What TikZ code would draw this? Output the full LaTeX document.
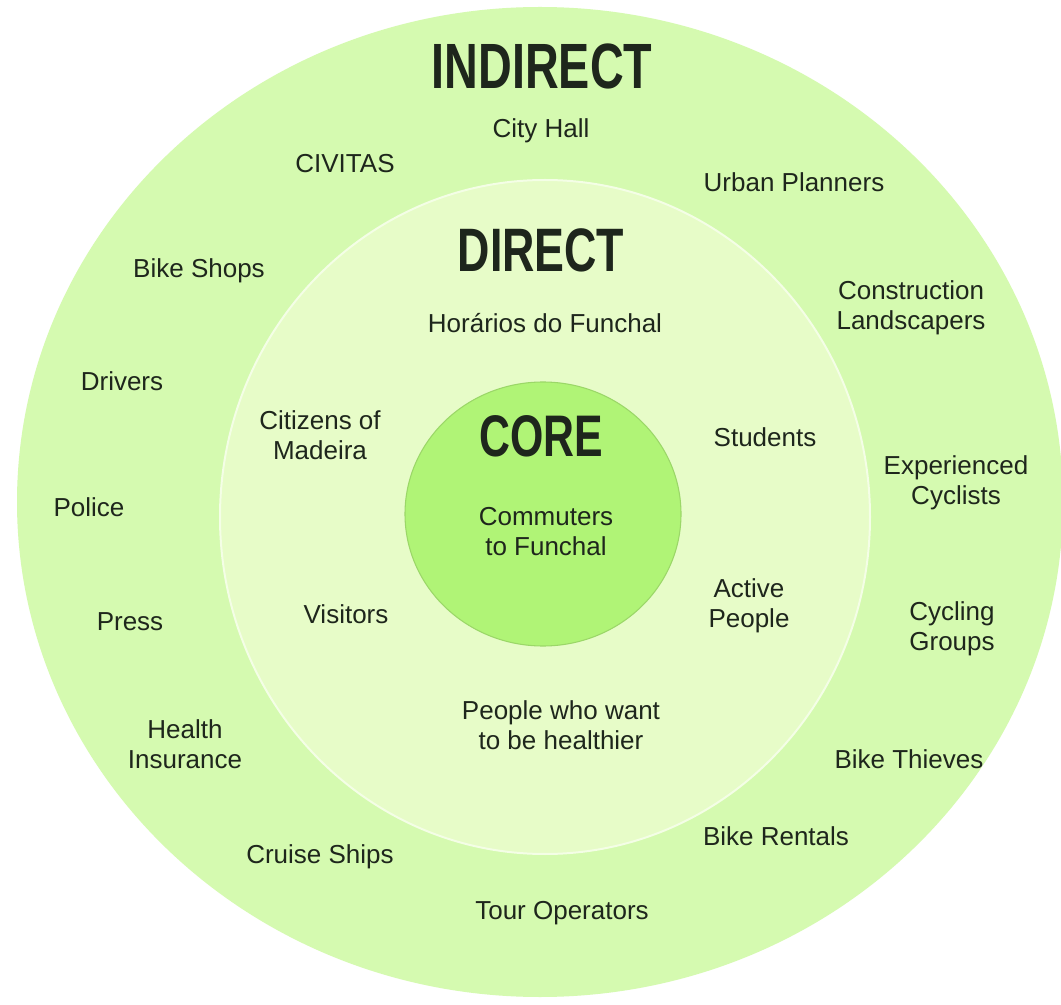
\documentclass[tikz,border=0pt]{standalone}
\usepackage{fontspec}
\setmainfont{Liberation Sans}
\definecolor{ringout}{RGB}{213,250,176}
\definecolor{ringmid}{RGB}{231,252,200}
\definecolor{ringcore}{RGB}{176,244,118}
\definecolor{inktext}{RGB}{30,38,28}
\newcommand{\ringtitle}[1]{\scalebox{0.73}[1]{\bfseries #1}}

\begin{document}
\begin{tikzpicture}[x=0.75pt,y=-0.75pt,
  lbl/.style={text=inktext,font=\fontsize{19.5}{22.5}\selectfont,align=center,inner sep=0pt},
  head/.style={text=inktext,inner sep=0pt}]
\useasboundingbox[fill=white] (0,0) rectangle (1061,1005);
% rings
\fill[ringout] (540,502) ellipse [x radius=523, y radius=495];
\filldraw[fill=ringmid,draw=white!55!ringmid,line width=1.5] (545,517) ellipse [x radius=325, y radius=337];
\filldraw[fill=ringcore,draw=ringcore!88!black,line width=0.8] (543,514) ellipse [x radius=138, y radius=132];
% titles
\node[head,font=\fontsize{48}{50}\selectfont] (indirect) at (542,66) {\ringtitle{INDIRECT}};
\node[head,font=\fontsize{46}{48}\selectfont] (direct) at (541,250) {\ringtitle{DIRECT}};
\node[head,font=\fontsize{44}{46}\selectfont] (core) at (541,436) {\ringtitle{CORE}};
% core
\node[lbl] (commuters) at (546,532) {Commuters\\to Funchal};
% direct
\node[lbl] (horarios) at (545,323) {Horários do Funchal};
\node[lbl] (citizens) at (320,435) {Citizens of\\Madeira};
\node[lbl] (students) at (765,437) {Students};
\node[lbl] (visitors) at (346,614) {Visitors};
\node[lbl] (active) at (749,606) {Active\\People};
\node[lbl] (healthier) at (561,725) {People who want\\to be healthier};
% indirect
\node[lbl] (cityhall) at (541,131) {City Hall};
\node[lbl] (civitas) at (345,164) {CIVITAS};
\node[lbl] (planners) at (794,182) {Urban Planners};
\node[lbl] (bikeshops) at (199,271) {Bike Shops};
\node[lbl] (construction) at (911,308) {Construction\\Landscapers};
\node[lbl] (drivers) at (122,381) {Drivers};
\node[lbl] (experienced) at (956,483) {Experienced\\Cyclists};
\node[lbl] (police) at (89,507) {Police};
\node[lbl] (press) at (130,622) {Press};
\node[lbl] (cycling) at (952,629) {Cycling\\Groups};
\node[lbl] (insurance) at (185,744) {Health\\Insurance};
\node[lbl] (thieves) at (909,759) {Bike Thieves};
\node[lbl] (rentals) at (776,836) {Bike Rentals};
\node[lbl] (cruise) at (320,857) {Cruise Ships};
\node[lbl] (tours) at (562,913) {Tour Operators};
\end{tikzpicture}
\end{document}
